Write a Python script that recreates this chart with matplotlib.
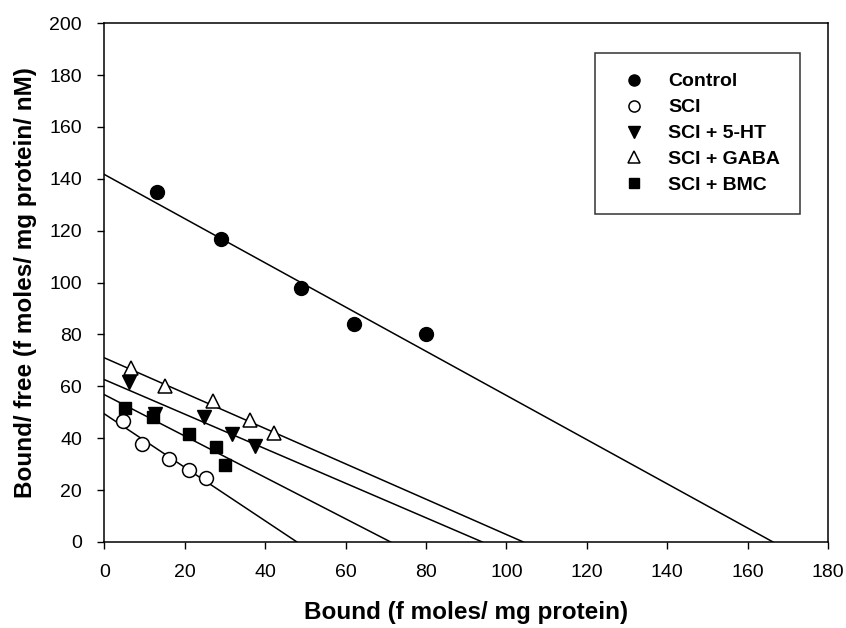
import matplotlib.pyplot as plt

plt.rcParams['font.family'] = ['Liberation Sans', 'DejaVu Sans']

# data
control_x = [13, 29, 49, 62, 80]
control_y = [135, 117, 98, 84, 80]
sci_x = [4.7, 9.4, 16, 21, 25.2]
sci_y = [46.8, 37.8, 31.8, 27.8, 24.6]
ht_x = [6.2, 12.5, 24.8, 31.7, 37.6]
ht_y = [61.6, 49.4, 48.0, 41.8, 36.9]
gaba_x = [6.7, 15, 27.1, 36.2, 42.1]
gaba_y = [67.2, 60.0, 54.4, 47.2, 42.2]
bmc_x = [5.2, 12.1, 21, 27.9, 30]
bmc_y = [51.8, 48.1, 41.8, 36.8, 29.8]

# fitted lines: y intercept and x intercept
line_y0 = [141.7, 49.4, 62.6, 71.0, 56.8]
line_x0 = [166.3, 47.9, 94.0, 104.2, 71.2]

fig = plt.figure(figsize=(8.46, 6.28), dpi=100)
ax = fig.add_axes([0.1233, 0.137, 0.8555, 0.826])

for y0, x0 in zip(line_y0, line_x0):
    ax.plot([0, x0], [y0, 0], color='black', lw=1.1, zorder=1)

ms = 10
ax.plot(control_x, control_y, 'o', color='black', ms=ms, label='Control', zorder=3)
ax.plot(sci_x, sci_y, 'o', mfc='white', mec='black', mew=1.1, ms=ms, label='SCI', zorder=3)
ax.plot(ht_x, ht_y, 'v', color='black', ms=ms, label='SCI + 5-HT', zorder=3)
ax.plot(gaba_x, gaba_y, '^', mfc='white', mec='black', mew=1.1, ms=ms, label='SCI + GABA', zorder=3)
ax.plot(bmc_x, bmc_y, 's', color='black', ms=ms - 1.5, label='SCI + BMC', zorder=3)

ax.set_xlim(0, 180)
ax.set_ylim(0, 200)
ax.set_xticks(range(0, 181, 20))
ax.set_yticks(range(0, 201, 20))
ax.tick_params(direction='out', length=5, width=1, pad=11, labelsize=14, top=False, right=False)
for s in ax.spines.values():
    s.set_linewidth(1.1)

ax.set_xlabel('Bound (f moles/ mg protein)', fontsize=17.5, fontweight='bold', labelpad=14)
ax.set_ylabel('Bound/ free (f moles/ mg protein/ nM)', fontsize=17.5, fontweight='bold', labelpad=9)

leg = ax.legend(loc='upper right', bbox_to_anchor=(0.961, 0.942), frameon=True, fancybox=False,
                edgecolor='black', prop={'weight': 'bold', 'size': 14},
                markerscale=0.8, handlelength=2.0, borderpad=1.0, labelspacing=0.43,
                handletextpad=0.75, borderaxespad=0)
leg.get_frame().set_linewidth(1.1)

fig.savefig('out.png', dpi=100)
